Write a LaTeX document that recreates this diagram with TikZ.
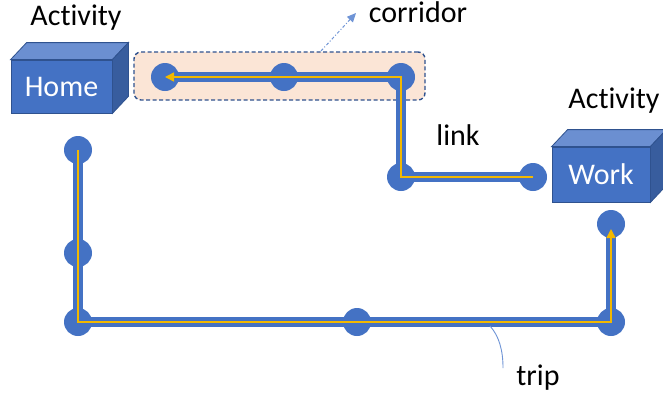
\documentclass[tikz,border=0pt]{standalone}
\usepackage{fontspec}
\setmainfont{Carlito}[Ligatures=NoCommon]
\usepackage{tikz}
\usetikzlibrary{shapes, arrows.meta, positioning}
\definecolor{stopblue}{HTML}{4472C4}
\definecolor{edgeblue}{HTML}{2F528F}
\definecolor{topblue}{HTML}{6B8FD1}
\definecolor{sideblue}{HTML}{385D9E}
\definecolor{routegold}{HTML}{F2B800}
\definecolor{corrfill}{HTML}{FBE5D6}
\definecolor{pointblue}{HTML}{6F94D6}
\newcommand{\boxfaces}[1]{%
	\filldraw[fill=topblue, draw=edgeblue, line width=0.8pt] (#1.north west) -- ([shift={(16pt,17pt)}]#1.north west) -- ([shift={(16pt,17pt)}]#1.north east) -- (#1.north east) -- cycle;
	\filldraw[fill=sideblue, draw=edgeblue, line width=0.8pt] (#1.north east) -- ([shift={(16pt,17pt)}]#1.north east) -- ([shift={(16pt,17pt)}]#1.south east) -- (#1.south east) -- cycle;}
\tikzstyle{activity} = [rectangle, fill=stopblue, draw=edgeblue, line width=0.8pt, text=white, inner sep=0pt, font=\fontsize{30}{36}\selectfont]
\tikzstyle{tag} = [text=black, inner sep=0pt, font=\fontsize{30}{36}\selectfont]
\tikzstyle{stop} = [circle, fill=stopblue, minimum size=28pt, inner sep=0pt]
\tikzstyle{road} = [line width=9.5pt, draw=stopblue, line join=miter]
\tikzstyle{route} = [line width=1.5pt, draw=routegold, -{Triangle[length=9pt,width=9pt]}]
\tikzstyle{corridorbox} = [draw=edgeblue, fill=corrfill, dash pattern=on 4pt off 2.5pt, line width=1.4pt, rounded corners=7pt, minimum width=291pt, minimum height=48pt]
\tikzstyle{pointer} = [draw=pointblue, line width=1pt, dash dot, -{Triangle[length=9pt,width=8pt]}]

\begin{document}
\begin{tikzpicture}[x=1pt, y=-1pt]
	\useasboundingbox[fill=white] (0,0) rectangle (663,399);
	% activities
	\node [activity, minimum width=101pt, minimum height=53pt] (home) at (61.5,86.5) {Home};
	\boxfaces{home}
	\node [activity, minimum width=98pt, minimum height=55pt] (work) at (601,174.5) {Work};
	\boxfaces{work}
	\node [tag] (homeact) at (76,18) {Activity};
	\node [tag] (workact) at (614,101) {Activity};
	% corridor and link
	\node [corridorbox] (corr) at (279.5,76) {};
	\node [stop] (c1) at (165,77) {};
	\node [stop] (c2) at (284,77) {};
	\node [stop] (c3) at (401,77) {};
	\node [stop] (l1) at (401,177) {};
	\node [stop] (l2) at (533,177) {};
	\draw [road] (c1.center) -- (c2.center) -- (c3.center) -- (l1.center) -- (l2.center);
	\draw [route] (l2.center) -- (l1.center) -- (c3.center) -- (c1.center);
	\node [tag] (corrtxt) at (418,12) {corridor};
	\coordinate (corrfoot) at (321,51);
	\coordinate (corrtip) at (356,13);
	\draw [pointer] (corrfoot) -- (corrtip);
	\node [tag] (linktxt) at (458,135) {link};
	% trip
	\node [stop] (t1) at (78,150) {};
	\node [stop] (t2) at (78,253) {};
	\node [stop] (t3) at (78,322) {};
	\node [stop] (t4) at (357,322) {};
	\node [stop] (t5) at (611,322) {};
	\node [stop] (t6) at (611,224) {};
	\draw [road] (t1.center) -- (t2.center) -- (t3.center) -- (t4.center) -- (t5.center) -- (t6.center);
	\draw [route] (t1.center) -- (t3.center) -- (t5.center) -- ([yshift=-5pt]t6.center);
	\coordinate (tripfoot) at (490,326);
	\coordinate (tripend) at (503,368);
	\draw [draw=pointblue, line width=0.9pt] (tripfoot) .. controls (499,336) and (503,350) .. (tripend);
	\node [tag] (triptxt) at (538,378) {trip};
\end{tikzpicture}
\end{document}
